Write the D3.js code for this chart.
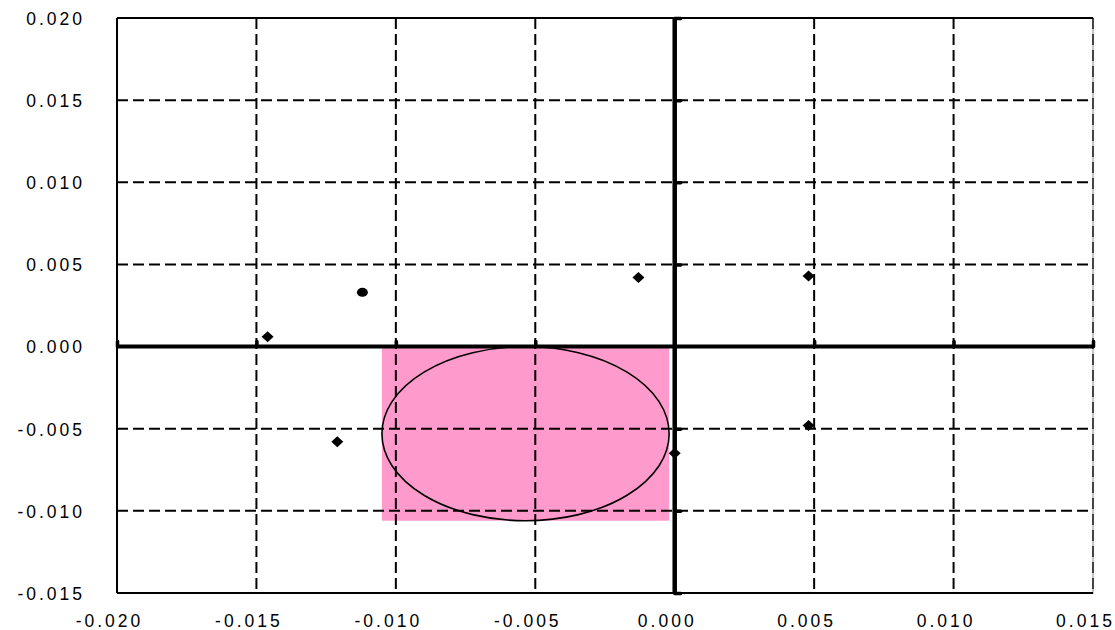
<!DOCTYPE html>
<html>
<head>
<meta charset="utf-8">
<script src="https://cdn.jsdelivr.net/npm/d3@7"></script>
<style>
  html, body { margin: 0; padding: 0; background: #fff; }
  svg { display: block; }
  .lbl text { font-family: "Liberation Sans", Arial, sans-serif; font-size: 17.5px; letter-spacing: 3px; fill: #000; }
</style>
</head>
<body>
<svg id="chart" width="1115" height="630"></svg>
<script>
// Axis ranges and tick labels
const xTicks = [-0.020, -0.015, -0.010, -0.005, 0.000, 0.005, 0.010, 0.015];
const yTicks = [-0.015, -0.010, -0.005, 0.000, 0.005, 0.010, 0.015, 0.020];

// Scatter points
const pointX = [-0.0146, -0.0112, -0.0121, -0.0013, 0.0048, 0.0048, 0.0000];
const pointY = [0.0006, 0.0033, -0.0058, 0.0042, 0.0043, -0.0048, -0.0065];
const pointShape = ["diamond", "circle", "diamond", "diamond", "diamond", "diamond", "diamond"];

// Shaded region (x0, x1, y0, y1) with its inscribed ellipse
const regionX = [-0.0105, -0.0002];
const regionY = [-0.0106, 0.0000];

const svg = d3.select("#chart");
const margin = { left: 117, right: 22, top: 18, bottom: 37 };
const W = 1115, H = 630;

const x = d3.scaleLinear().domain([d3.min(xTicks), d3.max(xTicks)]).range([margin.left, W - margin.right]);
const y = d3.scaleLinear().domain([d3.min(yTicks), d3.max(yTicks)]).range([H - margin.bottom, margin.top]);

const x0 = x.range()[0], x1 = x.range()[1];
const yTop = y.range()[1], yBot = y.range()[0];

// Shaded region
svg.append("rect")
  .attr("x", x(regionX[0])).attr("y", y(regionY[1]))
  .attr("width", x(regionX[1]) - x(regionX[0]))
  .attr("height", y(regionY[0]) - y(regionY[1]))
  .attr("fill", "#ff9acc");

// Gridlines
const grid = svg.append("g").attr("stroke", "#000").attr("stroke-width", 2).attr("stroke-dasharray", "11,5");
grid.selectAll("line.v").data(xTicks).join("line")
  .attr("x1", d => x(d)).attr("x2", d => x(d)).attr("y1", yTop).attr("y2", yBot);
grid.selectAll("line.h").data(yTicks).join("line")
  .attr("y1", d => y(d)).attr("y2", d => y(d)).attr("x1", x0).attr("x2", x1);

// Plot frame
svg.append("rect").attr("x", x0).attr("y", yTop).attr("width", x1 - x0).attr("height", yBot - yTop)
  .attr("fill", "none").attr("stroke", "#888").attr("stroke-width", 1);
const frame = svg.append("g").attr("stroke", "#000").attr("stroke-width", 2);
frame.append("line").attr("x1", x0).attr("x2", x1).attr("y1", yTop).attr("y2", yTop);
frame.append("line").attr("x1", x0).attr("x2", x1).attr("y1", yBot).attr("y2", yBot);
frame.append("line").attr("x1", x0).attr("x2", x0).attr("y1", yTop).attr("y2", yBot);

// Ellipse inscribed in the region
const cx = (regionX[0] + regionX[1]) / 2, cy = (regionY[0] + regionY[1]) / 2;
svg.append("ellipse")
  .attr("cx", x(cx)).attr("cy", y(cy))
  .attr("rx", (x(regionX[1]) - x(regionX[0])) / 2)
  .attr("ry", (y(regionY[0]) - y(regionY[1])) / 2)
  .attr("fill", "none").attr("stroke", "#000").attr("stroke-width", 1.6);

// Zero axes with small tick marks
const xZero = d3.axisTop(x).tickValues(xTicks.filter(d => d !== 0)).tickSize(5).tickFormat("");
const gx = svg.append("g").attr("transform", `translate(0,${y(0)})`).call(xZero);
gx.select(".domain").remove();
gx.selectAll(".tick line").attr("stroke", "#000").attr("stroke-width", 3.5).attr("stroke-linecap", "round");
svg.append("line").attr("x1", x0).attr("x2", x1).attr("y1", y(0)).attr("y2", y(0))
  .attr("stroke", "#000").attr("stroke-width", 4);

const yZero = d3.axisRight(y).tickValues(yTicks.filter(d => d !== 0)).tickSize(6).tickFormat("");
const gy = svg.append("g").attr("transform", `translate(${x(0)},0)`).call(yZero);
gy.select(".domain").remove();
gy.selectAll(".tick line").attr("stroke", "#000").attr("stroke-width", 3.5).attr("stroke-linecap", "round");
svg.append("line").attr("x1", x(0)).attr("x2", x(0)).attr("y1", yTop).attr("y2", yBot)
  .attr("stroke", "#000").attr("stroke-width", 4.5);

// Tick labels along the frame
const fmt = d3.format(".3f");
const lblX = svg.append("g").attr("class", "lbl").attr("transform", `translate(-8,${H - 3})`)
  .call(d3.axisBottom(x).tickValues(xTicks).tickSize(0).tickPadding(0).tickFormat(d => fmt(d).replace("−", "-")));
lblX.select(".domain").remove();
lblX.selectAll("text").attr("dy", 0).attr("y", 0);

const lblY = svg.append("g").attr("class", "lbl").attr("transform", `translate(85,0)`)
  .call(d3.axisLeft(y).tickValues(yTicks).tickSize(0).tickPadding(0).tickFormat(d => fmt(d).replace("−", "-")));
lblY.select(".domain").remove();
lblY.selectAll("text").attr("dy", "0.36em");

// Points
const diamondPath = "M-6,0L0,-5.5L6,0L0,5.5Z";
const pts = svg.append("g");
pointX.forEach((px, i) => {
  if (pointShape[i] === "circle") {
    pts.append("ellipse").attr("cx", x(px)).attr("cy", y(pointY[i])).attr("rx", 5.5).attr("ry", 4.5).attr("fill", "#000");
  } else {
    pts.append("path").attr("d", diamondPath).attr("transform", `translate(${x(px)},${y(pointY[i])})`).attr("fill", "#000");
  }
});
</script>
</body>
</html>
